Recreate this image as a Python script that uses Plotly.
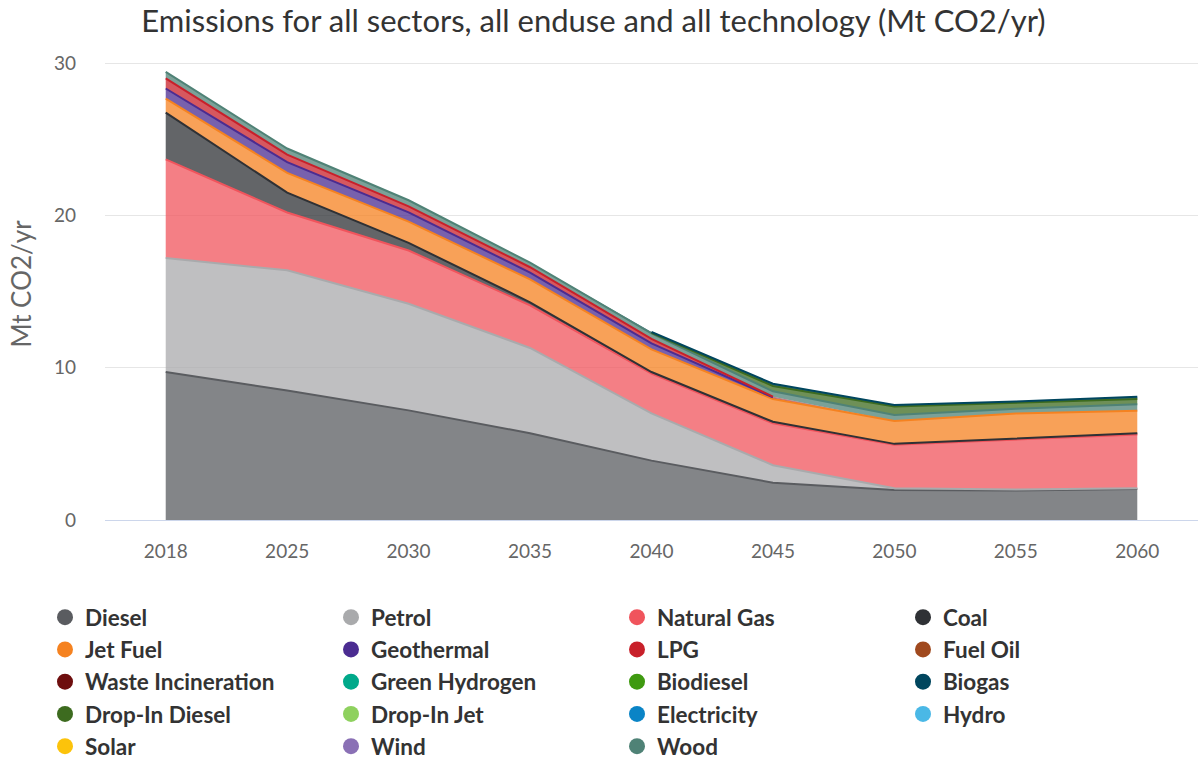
import numpy as np
import plotly.graph_objects as go

# Scenario years (shown as evenly spaced categories)
years = ["2018", "2025", "2030", "2035", "2040", "2045", "2050", "2055", "2060"]

# Emissions by fuel, Mt CO2/yr (None = fuel not present that year)
N = None
diesel = [9.72, 8.50, 7.20, 5.70, 3.90, 2.45, 1.97, 1.93, 2.03]
petrol = [7.48, 7.90, 7.00, 5.60, 3.10, 1.15, 0.11, 0.07, 0.05]
natural_gas = [6.48, 3.80, 3.50, 2.80, 2.62, 2.75, 2.87, 3.30, 3.54]
coal = [3.08, 1.30, 0.50, 0.20, 0.10, 0.10, 0.05, 0.06, 0.07]
jet_fuel = [0.92, 1.30, 1.40, 1.50, 1.48, 1.50, 1.50, 1.64, 1.49]
geothermal = [0.66, 0.70, 0.60, 0.45, 0.40, 0.10, N, N, N]
lpg = [0.66, 0.50, 0.40, 0.35, 0.30, 0.05, N, N, N]
fuel_oil = [N, N, N, N, N, N, N, N, N]
waste_incineration = [N, N, N, N, N, N, N, N, N]
green_hydrogen = [N, N, N, N, N, N, N, N, N]
biodiesel = [N, N, N, N, N, N, N, N, N]
wood = [0.43, 0.40, 0.40, 0.30, 0.35, 0.35, 0.40, 0.30, 0.42]
drop_in_diesel = [N, N, N, N, 0.05, 0.35, 0.55, 0.38, 0.35]
biogas = [N, N, N, N, 0.05, 0.15, 0.10, 0.10, 0.15]
drop_in_jet = [N, N, N, N, N, N, N, N, N]
electricity = [N, N, N, N, N, N, N, N, N]
hydro = [N, N, N, N, N, N, N, N, N]
solar = [N, N, N, N, N, N, N, N, N]
wind = [N, N, N, N, N, N, N, N, N]

# Stacking order, bottom to top
series = {
    "Diesel": diesel,
    "Petrol": petrol,
    "Natural Gas": natural_gas,
    "Coal": coal,
    "Jet Fuel": jet_fuel,
    "Geothermal": geothermal,
    "LPG": lpg,
    "Fuel Oil": fuel_oil,
    "Waste Incineration": waste_incineration,
    "Green Hydrogen": green_hydrogen,
    "Biodiesel": biodiesel,
    "Wood": wood,
    "Drop-In Diesel": drop_in_diesel,
    "Biogas": biogas,
    "Drop-In Jet": drop_in_jet,
    "Electricity": electricity,
    "Hydro": hydro,
    "Solar": solar,
    "Wind": wind,
}

colors = {
    "Diesel": "#5a5c60",
    "Petrol": "#a9aaac",
    "Natural Gas": "#f0545c",
    "Coal": "#2f3135",
    "Jet Fuel": "#f58220",
    "Geothermal": "#4b2c91",
    "LPG": "#c8202a",
    "Fuel Oil": "#a0491e",
    "Waste Incineration": "#6e0e0e",
    "Green Hydrogen": "#00a98a",
    "Biodiesel": "#3f9a10",
    "Biogas": "#00465e",
    "Drop-In Diesel": "#3d6b1f",
    "Drop-In Jet": "#8ed15e",
    "Electricity": "#0a84c6",
    "Hydro": "#4ab8e6",
    "Solar": "#fcc30b",
    "Wind": "#8a70b5",
    "Wood": "#4f8276",
}

legend_order = [
    "Diesel", "Petrol", "Natural Gas", "Coal",
    "Jet Fuel", "Geothermal", "LPG", "Fuel Oil",
    "Waste Incineration", "Green Hydrogen", "Biodiesel", "Biogas",
    "Drop-In Diesel", "Drop-In Jet", "Electricity", "Hydro",
    "Solar", "Wind", "Wood",
]


def rgba(hex_color, alpha):
    h = hex_color.lstrip("#")
    r, g, b = int(h[0:2], 16), int(h[2:4], 16), int(h[4:6], 16)
    return f"rgba({r},{g},{b},{alpha})"


FONT = "Lato"
fig = go.Figure()

present = {k: v for k, v in series.items() if any(x is not None for x in v)}

# Stacked area fills
for name, values in present.items():
    fig.add_trace(go.Scatter(
        x=years, y=values, name=name, stackgroup="one", mode="lines",
        line=dict(color=colors[name], width=0),
        fillcolor=rgba(colors[name], 0.75),
        legendgroup=name, showlegend=False,
    ))

# Outline along the top of each band, only where the fuel is present
running = np.zeros(len(years))
for name, values in present.items():
    vals = np.array([np.nan if v is None else v for v in values], dtype=float)
    running = running + np.nan_to_num(vals)
    top = [float(t) if not np.isnan(v) else None for t, v in zip(running, vals)]
    fig.add_trace(go.Scatter(
        x=years, y=top, mode="lines", connectgaps=False,
        line=dict(color=colors[name], width=2),
        legendgroup=name, showlegend=False, hoverinfo="skip",
    ))

# Legend entries with round markers
for name in legend_order:
    fig.add_trace(go.Scatter(
        x=[None], y=[None], mode="markers", name=name,
        marker=dict(color=colors[name], size=22, symbol="circle"),
        legendgroup=name, showlegend=True,
    ))

fig.update_layout(
    width=1199, height=760,
    paper_bgcolor="white", plot_bgcolor="white",
    margin=dict(l=105, r=1, t=48, b=240, autoexpand=False),
    font=dict(family=FONT, color="#666666"),
    title=dict(
        text="Emissions for all sectors, all enduse and all technology (Mt CO2/yr)",
        x=0.495, xref="container", xanchor="center",
        y=1 - 21 / 760, yref="container", yanchor="middle",
        font=dict(family=FONT, size=31, color="#333333"),
    ),
    xaxis=dict(
        type="category", range=[-0.5, 8.5],
        showgrid=False, showline=True, linecolor="#ccd6eb", linewidth=1,
        ticks="", tickfont=dict(size=19, color="#666666"),
        ticklabelstandoff=14,
    ),
    yaxis=dict(
        range=[0, 31], dtick=10, showgrid=True, gridcolor="#e6e6e6",
        gridwidth=1, zeroline=False, showline=False,
        tickfont=dict(size=19, color="#666666"), ticklabelstandoff=28,
        title=dict(text="Mt CO2/yr", font=dict(size=26, color="#666666"), standoff=14),
    ),
    legend=dict(
        orientation="h", xref="paper", yref="paper",
        x=(45 - 105) / 1093, y=-(596 - 520) / 472, xanchor="left", yanchor="top",
        entrywidth=241, entrywidthmode="pixels",
        font=dict(family=FONT, size=22.5, color="#333333", weight="bold"),
        itemsizing="trace", traceorder="normal",
        bgcolor="rgba(0,0,0,0)",
    ),
    showlegend=True,
    hovermode="x unified",
)

fig.write_html("out.html")
